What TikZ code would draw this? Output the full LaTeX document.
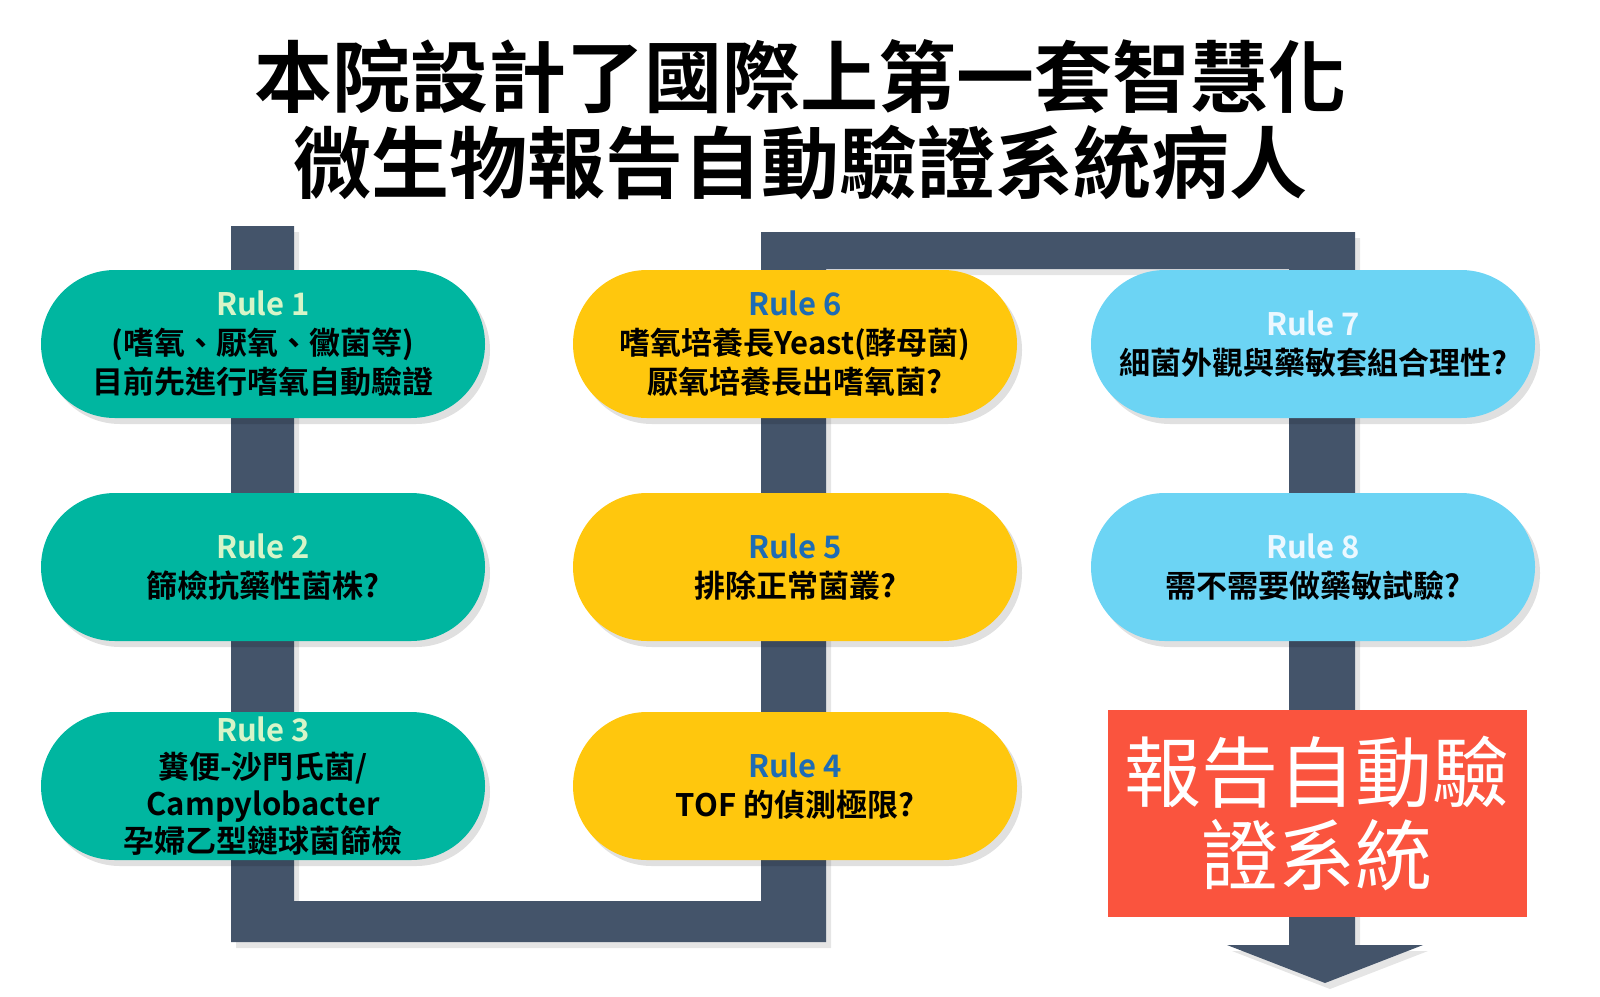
\documentclass[tikz,border=0pt]{standalone}
\usepackage{fontspec}
\setmainfont{Noto Sans CJK TC}[BoldFont={Noto Sans CJK TC Bold}]
\usetikzlibrary{shapes.misc,shadows}

\definecolor{tealpill}{RGB}{0,182,160}
\definecolor{yellowpill}{RGB}{255,199,13}
\definecolor{bluepill}{RGB}{108,212,244}
\definecolor{slatebar}{RGB}{68,84,106}
\definecolor{redbox}{RGB}{250,84,62}
\definecolor{minttext}{RGB}{215,245,200}
\definecolor{bluetext}{RGB}{30,108,180}
\definecolor{palete}{RGB}{236,248,255}

\tikzset{
	pill/.style={rounded rectangle, minimum width=222pt, minimum height=74pt, align=center, inner sep=0pt,
		font=\bfseries\fontsize{15.5}{19.5}\selectfont,
		drop shadow={shadow xshift=2.5pt, shadow yshift=-3pt, opacity=0.12, fill=black}},
	bar/.style={fill=slatebar, preaction={fill=black!10, transform canvas={shift={(2.5pt,-3pt)}}}}
}

\begin{document}
\begin{tikzpicture}[x=0.5pt,y=-0.5pt]
	\useasboundingbox (0,0) rectangle (1600,996);
	\node[align=center, font=\bfseries\fontsize{39}{43}\selectfont] (title) at (800,120) {本院設計了國際上第一套智慧化\\微生物報告自動驗證系統病人};
	
	\fill[bar] (231,226)--(231,942)--(826,942)--(826,269)--(1289,269)--(1289,945)--(1227,945)--(1325,983)--(1423,945)--(1355,945)--(1355,232)--(761,232)--(761,901)--(294,901)--(294,226)--cycle;
	
	\node[pill, fill=tealpill] (r1) at (263,344) {\textcolor{minttext}{Rule 1}\\(嗜氧、厭氧、黴菌等)\\目前先進行嗜氧自動驗證};
	\node[pill, fill=tealpill] (r2) at (263,567) {\textcolor{minttext}{Rule 2}\\篩檢抗藥性菌株?};
	\node[pill, fill=tealpill, font=\bfseries\fontsize{15.5}{18.6}\selectfont] (r3) at (263,786) {\textcolor{minttext}{Rule 3}\\糞便-沙門氏菌/\\Campylobacter\\孕婦乙型鏈球菌篩檢};
	
	\node[pill, fill=yellowpill] (r6) at (795,344) {\textcolor{bluetext}{Rule 6}\\嗜氧培養長Yeast(酵母菌)\\厭氧培養長出嗜氧菌?};
	\node[pill, fill=yellowpill] (r5) at (795,567) {\textcolor{bluetext}{Rule 5}\\排除正常菌叢?};
	\node[pill, fill=yellowpill] (r4) at (795,786) {\textcolor{bluetext}{Rule 4}\\TOF 的偵測極限?};
	
	\node[pill, fill=bluepill] (r7) at (1313,344) {\textcolor{palete}{Rule 7}\\細菌外觀與藥敏套組合理性?};
	\node[pill, fill=bluepill] (r8) at (1313,567) {\textcolor{palete}{Rule 8}\\需不需要做藥敏試驗?};
	
	\node[fill=redbox, minimum width=209.5pt, minimum height=103.5pt, align=center, text=white,
		font=\fontsize{38.5}{41.5}\selectfont] (sys) at (1317,813) {報告自動驗\\證系統};
\end{tikzpicture}
\end{document}
